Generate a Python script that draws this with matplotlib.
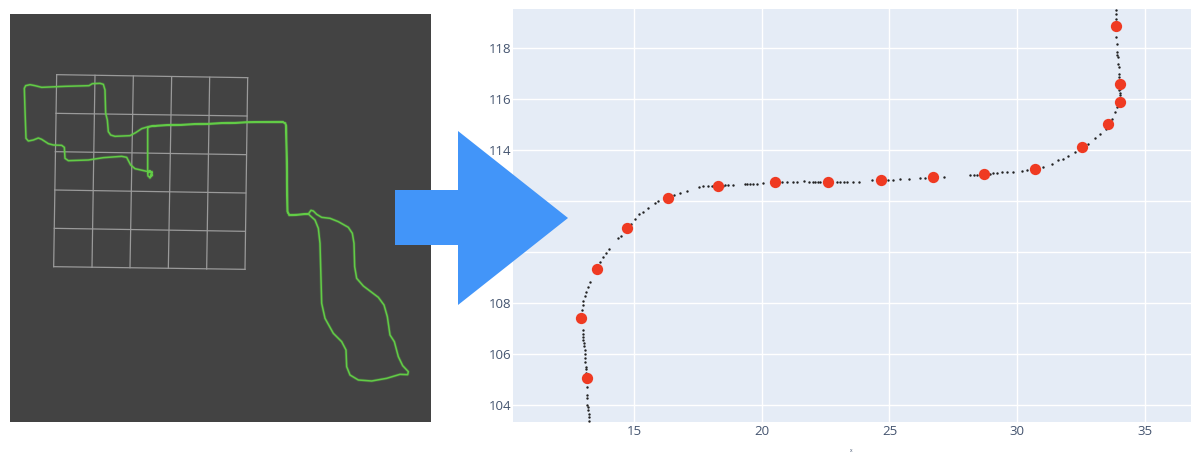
import matplotlib
matplotlib.use("Agg")
import matplotlib.pyplot as plt
from matplotlib.patches import Polygon

# Right panel: picked positions (red) and raw trajectory samples (black)
picked_x = [13.13, 12.91, 13.52, 14.70, 16.31, 18.29, 20.50, 22.59, 24.66, 26.70, 28.70, 30.72, 32.54, 33.57, 34.03, 34.03, 33.87]
picked_y = [105.07, 107.40, 109.35, 110.95, 112.13, 112.59, 112.75, 112.77, 112.84, 112.94, 113.06, 113.27, 114.12, 115.03, 115.88, 116.60, 118.90]

raw_x = [13.23, 13.22, 13.20, 13.19, 13.17, 13.16, 13.15, 13.15, 13.15, 13.12, 13.12, 13.11, 13.10, 13.08, 13.07, 13.06, 13.05, 13.03, 13.01, 13.00, 12.98, 12.975, 12.97,
         12.93, 12.97, 12.99, 13.05, 13.12, 13.19, 13.24, 13.65, 13.78, 13.88, 14.01, 14.37, 14.46, 14.85, 15.02,
         15.19, 15.32, 15.52, 15.80, 15.93, 16.56, 16.78, 17.08, 17.52, 17.70, 17.90, 18.03, 18.48, 18.55, 18.68, 18.85,
         19.33, 19.40, 19.53, 19.66, 19.79, 20.05, 20.77, 20.97, 21.20, 21.39, 21.65, 21.86, 22.00, 22.08, 22.18, 22.27, 22.95, 23.06, 23.20, 23.32, 23.58,
         23.82, 24.30, 24.50, 24.95, 25.15, 25.41, 25.76, 26.20, 26.39, 26.85, 27.15, 28.16, 28.30, 28.42, 28.55, 28.80, 28.94, 29.05, 29.20,
         29.40, 29.59, 29.86, 30.18, 30.38, 31.03, 31.36, 31.62, 31.82, 32.01, 32.27, 32.47, 32.80, 33.06, 33.25, 33.49,
         33.71, 33.84, 33.93, 34.04, 34.03, 34.02, 34.01, 34.01, 34.00, 33.99, 33.97, 33.95, 33.93, 33.92, 33.90, 33.88, 33.87, 33.87, 33.87]
raw_y = [103.35, 103.54, 103.65, 103.80, 103.90, 104.00, 104.26, 104.39, 104.72, 104.92, 105.24, 105.40, 105.50, 105.70, 105.83, 106.00, 106.16, 106.30, 106.42, 106.55, 106.68, 106.80, 106.94,
         107.73, 107.92, 108.09, 108.27, 108.44, 108.64, 108.81, 109.62, 109.82, 109.97, 110.14, 110.54, 110.63, 111.10, 111.32,
         111.48, 111.59, 111.75, 111.93, 112.01, 112.26, 112.33, 112.41, 112.55, 112.58, 112.59, 112.59, 112.61, 112.62, 112.63, 112.65,
         112.68, 112.68, 112.68, 112.69, 112.69, 112.71, 112.76, 112.77, 112.77, 112.77, 112.78, 112.77, 112.77, 112.77, 112.77, 112.77, 112.77, 112.77, 112.77, 112.77, 112.76,
         112.77, 112.82, 112.82, 112.85, 112.85, 112.86, 112.88, 112.90, 112.90, 112.94, 112.94, 113.03, 113.04, 113.05, 113.06, 113.07, 113.08, 113.10, 113.12,
         113.14, 113.16, 113.16, 113.19, 113.22, 113.35, 113.48, 113.61, 113.66, 113.76, 113.93, 114.04, 114.26, 114.50, 114.63, 114.85,
         115.24, 115.50, 115.70, 116.16, 116.25, 116.40, 116.35, 116.88, 117.00, 117.27, 117.40, 117.66, 117.75, 117.86, 118.18, 118.44, 119.16, 119.36, 119.52]

x_ticks = [15, 20, 25, 30, 35]
y_ticks = [104, 106, 108, 110, 112, 114, 116, 118]

# Left panel: recorded path and floor grid, in screenshot units
path_x = [450, 457, 455, 449, 443, 444, 450, 455, 449, 444, 443, 443, 447, 470, 495, 740, 848, 856, 859, 861, 863, 868, 925, 933, 940, 950, 965, 990, 1015,
          1045, 1057, 1062, 1064, 1070, 1090, 1135, 1152, 1162, 1170, 1183, 1195, 1208, 1225, 1223, 1200, 1160, 1115, 1075, 1050, 1040, 1038, 1025, 1000,
          975, 965, 960, 955, 945, 925, 868, 862, 860, 858, 856, 848, 740, 495, 470, 445, 425, 407, 390, 345, 332, 325, 322, 317, 315, 310, 300, 277, 267,
          195, 125, 105, 90, 77, 73, 75, 78, 85, 100, 115, 125, 145, 160, 185, 193, 195, 205, 265, 310, 365, 380, 392, 405, 440, 455]
path_y = [353, 346, 336, 333, 338, 348, 353, 336, 333, 338, 330, 205, 200, 197, 196, 187, 186, 190, 200, 320, 455, 465, 462, 451, 453, 463, 472, 475, 485,
          502, 520, 550, 620, 655, 678, 712, 735, 770, 825, 845, 890, 917, 935, 944, 943, 955, 963, 960, 945, 920, 870, 845, 820,
          775, 730, 550, 505, 480, 462, 466, 455, 320, 200, 190, 186, 187, 196, 197, 200, 206, 218, 227, 229, 225, 215, 180, 160, 90, 73, 70, 71, 77,
          79, 82, 77, 74, 77, 85, 150, 235, 243, 240, 234, 238, 251, 255, 256, 262, 295, 302, 300, 293, 289, 292, 315, 326, 334, 336]

grid_top_x = [170, 285, 400, 515, 629, 743]
grid_top_y = [44, 46, 48, 50, 52, 53]
grid_bottom_x = [161, 276, 390, 505, 620, 735]
grid_bottom_y = [620, 622, 623, 625, 627, 628]
grid_left_x = [170, 168, 166, 164, 163, 161]
grid_left_y = [44, 160, 275, 390, 505, 620]
grid_right_x = [743, 741, 739, 737, 736, 735]
grid_right_y = [53, 168, 284, 399, 514, 628]

W, H = 1200, 453
TICK = "#44546f"
fig = plt.figure(figsize=(12, 4.53), dpi=100, facecolor="white")
plt.rcParams["font.family"] = ["Open Sans", "DejaVu Sans"]


def px_axes(l, t, r, b):
    return fig.add_axes([l / W, 1 - b / H, (r - l) / W, (b - t) / H])


# Left screenshot panel
left = px_axes(10, 14, 431, 422)
left.set_facecolor("#434343")
left.set_xlim(30, 1293)
left.set_ylim(1086, -138)
left.set_xticks([])
left.set_yticks([])
for s in left.spines.values():
    s.set_visible(False)
for i in range(len(grid_top_x)):
    left.plot([grid_top_x[i], grid_bottom_x[i]], [grid_top_y[i], grid_bottom_y[i]], color="#9a9a9a", lw=0.9)
    left.plot([grid_left_x[i], grid_right_x[i]], [grid_left_y[i], grid_right_y[i]], color="#9a9a9a", lw=0.9)
left.plot(path_x, path_y, color="#5fc644", lw=2.2, alpha=0.25, solid_joinstyle="round")
left.plot(path_x, path_y, color="#62cc46", lw=1.1, solid_joinstyle="round")

# Right plot panel
ax = px_axes(513, 9, 1191, 422)
ax.set_facecolor("#E5ECF6")
ax.set_xlim(10.24, 36.82)
ax.set_ylim(103.33, 119.55)
ax.set_xticks(x_ticks)
ax.set_yticks(y_ticks)
ax.grid(True, color="white", lw=1.0)
ax.set_axisbelow(True)
ax.tick_params(axis="x", length=0, labelsize=9.5, labelcolor=TICK, pad=2)
ax.tick_params(axis="y", length=0, labelsize=9.5, labelcolor=TICK, pad=1)
for s in ax.spines.values():
    s.set_visible(False)
ax.scatter(raw_x, raw_y, s=3.0, color="#222222", linewidths=0, zorder=2)
ax.scatter(picked_x, picked_y, s=66, color="#EF3A22", linewidths=0, zorder=3)

# Axis title, almost entirely lost at the bottom edge of the crop
fig.text(851 / W, 0.5 / H, "x", fontsize=3.5, color=TICK, ha="center", va="baseline")

# Big blue arrow overlay
over = fig.add_axes([0, 0, 1, 1])
over.set_xlim(0, W)
over.set_ylim(H, 0)
over.axis("off")
over.patch.set_alpha(0)
over.add_patch(Polygon([(395, 190), (458, 190), (458, 131), (568, 218), (458, 305), (458, 245), (395, 245)],
                       closed=True, facecolor="#4295F9", edgecolor="none"))

fig.savefig("out.png", dpi=100, facecolor="white")
